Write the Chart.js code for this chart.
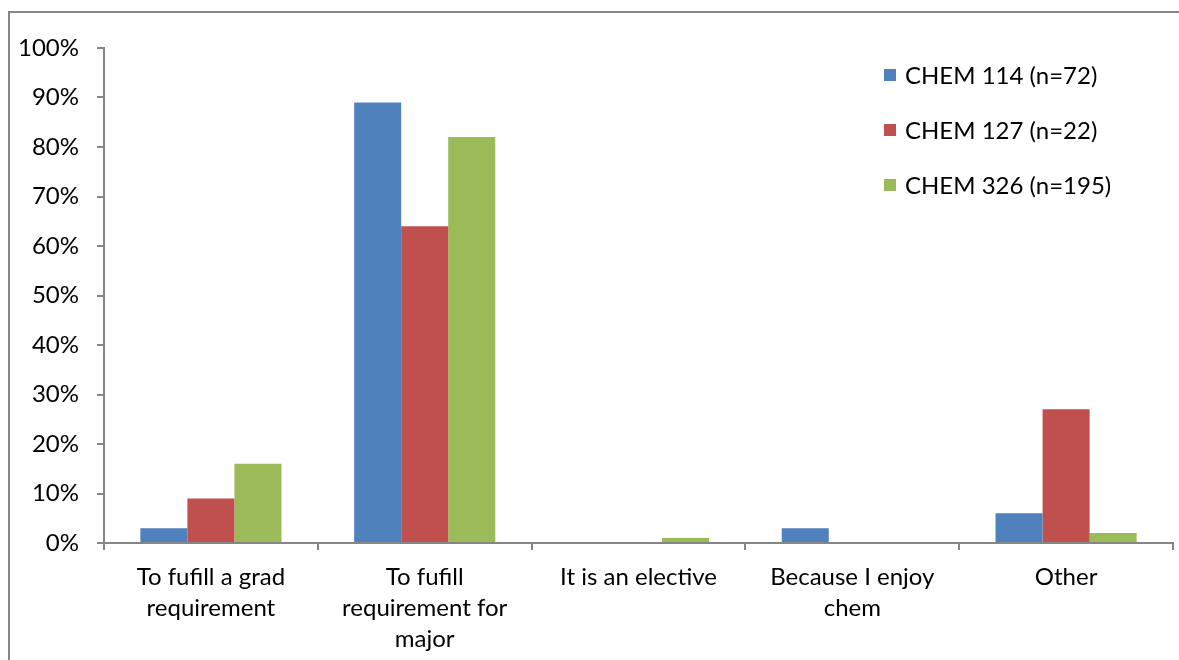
<!DOCTYPE html>
<html><head><meta charset="utf-8">
<script src="https://cdn.jsdelivr.net/npm/chart.js@4"></script>
<style>html,body{margin:0;padding:0;background:#fff;}canvas{display:block;}</style>
</head><body>
<canvas id="c" width="1179" height="660"></canvas>
<script>
const categories = [
  ["To fufill a grad", "requirement"],
  ["To fufill", "requirement for", "major"],
  "It is an elective",
  ["Because I enjoy", "chem"],
  "Other"
];
const seriesNames = ["CHEM 114 (n=72)", "CHEM 127 (n=22)", "CHEM 326 (n=195)"];
const chem114 = [3, 89, 0, 3, 6];
const chem127 = [9, 64, 0, 0, 27];
const chem326 = [16, 82, 1, 0, 2];
const colors = ["#4F81BD", "#C0504D", "#9BBB59"];
const yTicks = [0,10,20,30,40,50,60,70,80,90,100];

const FONT = "Lato, 'Open Sans', sans-serif";

const framePlugin = {
  id: 'frame',
  beforeDraw(chart) {
    const ctx = chart.ctx;
    ctx.save();
    ctx.fillStyle = '#fff';
    ctx.fillRect(0, 0, chart.width, chart.height);
    ctx.strokeStyle = '#868686';
    ctx.lineWidth = 2;
    ctx.strokeRect(9, 12, 1400, 1000);
    ctx.restore();
  },
  afterDraw(chart) {
    const ctx = chart.ctx;
    ctx.save();
    ctx.font = "24px " + FONT;
    ctx.textBaseline = 'middle';
    chart.data.datasets.forEach((ds, i) => {
      const y = 75 + i * 55;
      ctx.fillStyle = ds.backgroundColor;
      ctx.fillRect(884, y - 6, 12, 12);
      ctx.fillStyle = '#000';
      ctx.fillText(ds.label, 905, y + 1);
    });
    ctx.restore();
  }
};

new Chart(document.getElementById('c'), {
  type: 'bar',
  data: {
    labels: categories,
    datasets: [
      { label: seriesNames[0], data: chem114, backgroundColor: colors[0] },
      { label: seriesNames[1], data: chem127, backgroundColor: colors[1] },
      { label: seriesNames[2], data: chem326, backgroundColor: colors[2] }
    ]
  },
  options: {
    responsive: false,
    animation: false,
    devicePixelRatio: 1,
    layout: { padding: { left: 0, top: 48, right: 6, bottom: 0 } },
    plugins: { legend: { display: false }, tooltip: { enabled: false } },
    datasets: { bar: { categoryPercentage: 0.66, barPercentage: 1.0 } },
    scales: {
      x: {
        offset: true,
        grid: { offset: true, drawOnChartArea: false, drawTicks: true, tickLength: 7, color: '#868686', lineWidth: 2 },
        border: { color: '#868686', width: 2 },
        ticks: { color: '#000', font: { family: FONT, size: 24, lineHeight: 1.29 }, padding: 12, maxRotation: 0, autoSkip: false },
        afterFit(scale) { scale.height = 117; }
      },
      y: {
        min: 0, max: 100,
        afterBuildTicks(scale) { scale.ticks = yTicks.map(v => ({ value: v })); },
        grid: { drawOnChartArea: false, drawTicks: true, tickLength: 7, color: '#868686', lineWidth: 2 },
        border: { color: '#868686', width: 2 },
        ticks: { color: '#000', font: { family: FONT, size: 24 }, padding: 18, callback: v => v + '%' },
        afterFit(scale) { scale.width = 104; }
      }
    }
  },
  plugins: [framePlugin]
});
</script>
</body></html>
